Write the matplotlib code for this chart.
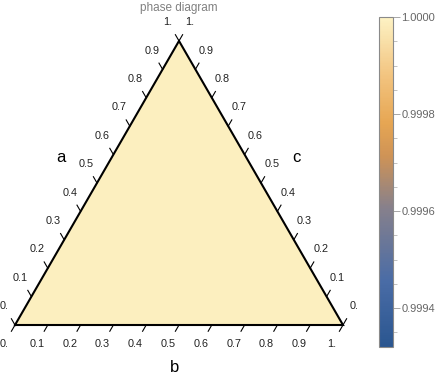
import numpy as np
import matplotlib
matplotlib.use("Agg")
import matplotlib.pyplot as plt
import matplotlib.tri as mtri
from matplotlib.colors import LinearSegmentedColormap, Normalize
from matplotlib.cm import ScalarMappable

plt.rcParams['font.family'] = ['Liberation Sans', 'DejaVu Sans']

# data
tick_values = [0.0, 0.1, 0.2, 0.3, 0.4, 0.5, 0.6, 0.7, 0.8, 0.9, 1.0]
tick_labels = ["0.", "0.1", "0.2", "0.3", "0.4", "0.5", "0.6", "0.7", "0.8", "0.9", "1."]
axis_names = ["a", "b", "c"]
# field value at the corners (a, b, c) = (0,1,0), (0,0,1), (1,0,0)
corner_a = [0.0, 0.0, 1.0]
corner_b = [1.0, 0.0, 0.0]
field_values = [0.99999, 0.99999, 0.99999]
cbar_min = 0.99932
cbar_max = 1.0
cbar_ticks = [0.9994, 0.9996, 0.9998, 1.0]
cbar_labels = ["0.9994", "0.9996", "0.9998", "1.0000"]
cbar_minor = [0.99935, 0.99945, 0.9995, 0.99955, 0.99965, 0.9997, 0.99975,
              0.99985, 0.9999, 0.99995]

cmap = LinearSegmentedColormap.from_list("sunset", [
    (0.0, "#2a5690"), (0.2, "#4a6ca6"), (0.42, "#86808c"),
    (0.58, "#cf9356"), (0.68, "#e6a653"), (0.82, "#f2c37e"), (1.0, "#fdf2c4")])
norm = Normalize(cbar_min, cbar_max)

h = np.sqrt(3) / 2
BL = np.array([0.0, 0.0])
BR = np.array([1.0, 0.0])
TOP = np.array([0.5, h])


def to_xy(a, b):
    # b runs along the bottom edge, a along the left edge
    return b + 0.5 * a, h * a


fig = plt.figure(figsize=(4.39, 3.81), dpi=100)
ax = fig.add_axes([0, 0, 1, 1])
ax.set_xlim(-15 / 328, 424 / 328)
ax.set_ylim(-56 / 328, 325 / 328)
ax.set_aspect("equal")
ax.axis("off")

xs, ys = to_xy(np.array(corner_a), np.array(corner_b))
tri = mtri.Triangulation(xs, ys)
ax.tripcolor(tri, field_values, cmap=cmap, norm=norm, shading="gouraud")
ax.plot([BL[0], BR[0], TOP[0], BL[0]], [BL[1], BR[1], TOP[1], BL[1]],
        color="black", lw=1.5, solid_joinstyle="miter", zorder=3)

tick_len = 0.022
lab_dist = 0.066
left_dir = np.array([-0.5, h])
bottom_dir = np.array([-0.5, -h])
right_dir = np.array([0.5, h])
edges = [(BL, TOP, left_dir), (BL, BR, bottom_dir), (BR, TOP, right_dir)]
for start, end, d in edges:
    for t, lab in zip(tick_values, tick_labels):
        p = start + t * (end - start)
        q = p + tick_len * d
        ax.plot([p[0], q[0]], [p[1], q[1]], color="black", lw=0.8, zorder=3)
        r = p + lab_dist * d
        ax.text(r[0], r[1], lab, ha="center", va="center", fontsize=7.8, color="#222222")

ax.text(0.140, 0.512, axis_names[0], ha="center", va="center", fontsize=12)
ax.text(0.485, -0.131, axis_names[1], ha="center", va="center", fontsize=12)
ax.text(0.857, 0.512, axis_names[2], ha="center", va="center", fontsize=12)
ax.text(0.5, 0.966, "phase diagram", ha="center", va="center", fontsize=8.5, color="#808080")

cax = fig.add_axes([379 / 439, 34 / 381, 14 / 439, 330 / 381])
cb = fig.colorbar(ScalarMappable(norm=norm, cmap=cmap), cax=cax)
cb.outline.set_edgecolor("#8a8a8a")
cb.outline.set_linewidth(0.8)
cb.set_ticks(cbar_ticks)
cb.set_ticklabels(cbar_labels)
cax.set_yticks(cbar_minor, minor=True)
cax.tick_params(which="major", length=5, width=0.6, color="#999999",
                labelcolor="#666666", labelsize=8, pad=1)
cax.tick_params(which="minor", length=3, width=0.5, color="#aaaaaa")

fig.savefig("out.png", dpi=100)
